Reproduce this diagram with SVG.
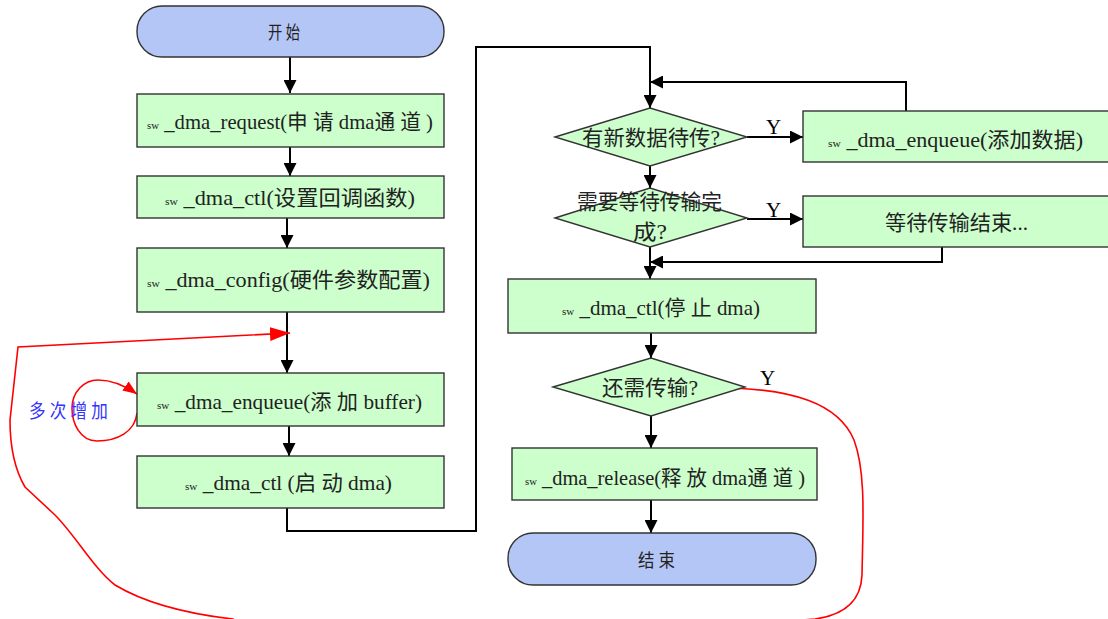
<svg xmlns="http://www.w3.org/2000/svg" width="1108" height="619" viewBox="0 0 1108 619">
<style>
.box{fill:#ccffcc;stroke:#333;stroke-width:1.4}
.term{fill:#b4c6f5;stroke:#333;stroke-width:1.4}
.t{font-family:"Liberation Serif","Noto Sans CJK SC",serif;font-size:21px;fill:#222}
.sm{font-size:11px}
.y{font-family:"Liberation Serif",serif;font-size:21px;fill:#000}
.c{fill:none;stroke:#000;stroke-width:2}
.r{fill:none;stroke:#ff0000;stroke-width:1.6}
</style>
<defs>
<marker id="ah" markerWidth="13" markerHeight="13" refX="13" refY="6.5" orient="auto" markerUnits="userSpaceOnUse"><path d="M0,0 L13,6.5 L0,13 z" fill="#000"/></marker>
<marker id="rh" markerWidth="20" markerHeight="14" refX="20" refY="7" orient="auto" markerUnits="userSpaceOnUse"><path d="M0,0 L20,7 L0,14 z" fill="#ff0000"/></marker>
<marker id="rs" markerWidth="14" markerHeight="11" refX="14" refY="5.5" orient="auto" markerUnits="userSpaceOnUse"><path d="M0,0 L14,5.5 L0,11 z" fill="#ff0000"/></marker>
</defs>
<rect width="1108" height="619" fill="#fff"/>
<g id="connectors">
<path class="c" d="M290,57 V93" marker-end="url(#ah)"/>
<path class="c" d="M290,147 V176" marker-end="url(#ah)"/>
<path class="c" d="M287,218 V248" marker-end="url(#ah)"/>
<path class="c" d="M287,312 V373" marker-end="url(#ah)"/>
<path class="c" d="M289,426 V456" marker-end="url(#ah)"/>
<path class="c" d="M287,508 V531 H476 V47 H650 V108" marker-end="url(#ah)"/>
<path class="c" d="M747,137 H803" marker-end="url(#ah)"/>
<path class="c" d="M906,111 V82 H650" marker-end="url(#ah)"/>
<path class="c" d="M650,166 V188" marker-end="url(#ah)"/>
<path class="c" d="M747,219 H803" marker-end="url(#ah)"/>
<path class="c" d="M942,247 V262 H650" marker-end="url(#ah)"/>
<path class="c" d="M650,247 V279" marker-end="url(#ah)"/>
<path class="c" d="M651,333 V358" marker-end="url(#ah)"/>
<path class="c" d="M651,416 V448" marker-end="url(#ah)"/>
<path class="c" d="M651,500 V533" marker-end="url(#ah)"/>
<path class="r" d="M732,388 C790,390 838,402 854,440 C866,472 863,520 862,575 C861,600 845,615 815,619 L790,621 L790,630 L233,630 L233,619 C180,613 140,600 115,585 C95,570 75,535 55,515 L25,487 C15,470 10,450 10,420 L18,347 L290,333" marker-end="url(#rh)"/>
<path class="r" d="M137,413 C135,432 117,441 97,441 C80,441 72,423 72,408 C72,392 84,380 98,380 C110,380 124,385 137,394" marker-end="url(#rs)"/>
</g>
<g id="start"><rect class="term" x="137" y="6" width="307" height="51" rx="25"/><text class="t" x="268" y="39" font-size="18" textLength="32" lengthAdjust="spacingAndGlyphs" style="font-size:18px">开 始</text></g>
<g id="request"><rect class="box" x="137" y="94" width="307" height="53"/><text class="t" x="147" y="129" textLength="286" lengthAdjust="spacingAndGlyphs"><tspan class="sm">sw</tspan> _dma_request(申 请 dma通 道 )</text></g>
<g id="ctl1"><rect class="box" x="137" y="176" width="307" height="42"/><text class="t" x="165" y="205" textLength="250" lengthAdjust="spacingAndGlyphs"><tspan class="sm">sw</tspan> _dma_ctl(设置回调函数)</text></g>
<g id="config"><rect class="box" x="137" y="248" width="307" height="64"/><text class="t" x="147" y="287" textLength="283" lengthAdjust="spacingAndGlyphs"><tspan class="sm">sw</tspan> _dma_config(硬件参数配置)</text></g>
<g id="enqueue1"><rect class="box" x="137" y="373" width="307" height="53"/><text class="t" x="157" y="409" textLength="265" lengthAdjust="spacingAndGlyphs"><tspan class="sm">sw</tspan> _dma_enqueue(添 加 buffer)</text></g>
<g id="ctl2"><rect class="box" x="137" y="456" width="307" height="52"/><text class="t" x="185" y="490" textLength="207" lengthAdjust="spacingAndGlyphs"><tspan class="sm">sw</tspan> _dma_ctl (启 动 dma)</text></g>
<g id="note"><text class="t" x="29" y="418" textLength="79" lengthAdjust="spacingAndGlyphs" style="fill:#3333ff;font-size:19px">多 次 增 加</text></g>
<g id="d1"><path class="box" d="M555,137 L650,108 L747,137 L650,166 z"/><text class="t" x="582" y="145" textLength="138" lengthAdjust="spacingAndGlyphs">有新数据待传?</text><text class="y" x="766" y="134">Y</text></g>
<g id="enqueue2"><rect class="box" x="803" y="111" width="310" height="51"/><text class="t" x="828" y="147" textLength="255" lengthAdjust="spacingAndGlyphs"><tspan class="sm">sw</tspan> _dma_enqueue(添加数据)</text></g>
<g id="d2"><path class="box" d="M555,218 L650,188 L747,218 L650,247 z"/><text class="t" x="577" y="209" textLength="145" lengthAdjust="spacingAndGlyphs">需要等待传输完</text><text class="t" x="633" y="239" textLength="34" lengthAdjust="spacingAndGlyphs">成?</text><text class="y" x="766" y="217">Y</text></g>
<g id="wait"><rect class="box" x="803" y="196" width="310" height="51"/><text class="t" x="885" y="230" textLength="143" lengthAdjust="spacingAndGlyphs">等待传输结束...</text></g>
<g id="stop"><rect class="box" x="508" y="279" width="308" height="54"/><text class="t" x="562" y="315" textLength="198" lengthAdjust="spacingAndGlyphs"><tspan class="sm">sw</tspan> _dma_ctl(停 止 dma)</text></g>
<g id="d3"><path class="box" d="M553,387 L651,358 L745,387 L651,416 z"/><text class="t" x="602" y="395" textLength="96" lengthAdjust="spacingAndGlyphs">还需传输?</text><text class="y" x="760" y="385">Y</text></g>
<g id="release"><rect class="box" x="512" y="448" width="305" height="52"/><text class="t" x="525" y="485" textLength="280" lengthAdjust="spacingAndGlyphs"><tspan class="sm">sw</tspan> _dma_release(释 放 dma通 道 )</text></g>
<g id="end"><rect class="term" x="508" y="533" width="308" height="52" rx="25"/><text class="t" x="638" y="567" textLength="37" lengthAdjust="spacingAndGlyphs" style="font-size:18px">结 束</text></g>
</svg>
